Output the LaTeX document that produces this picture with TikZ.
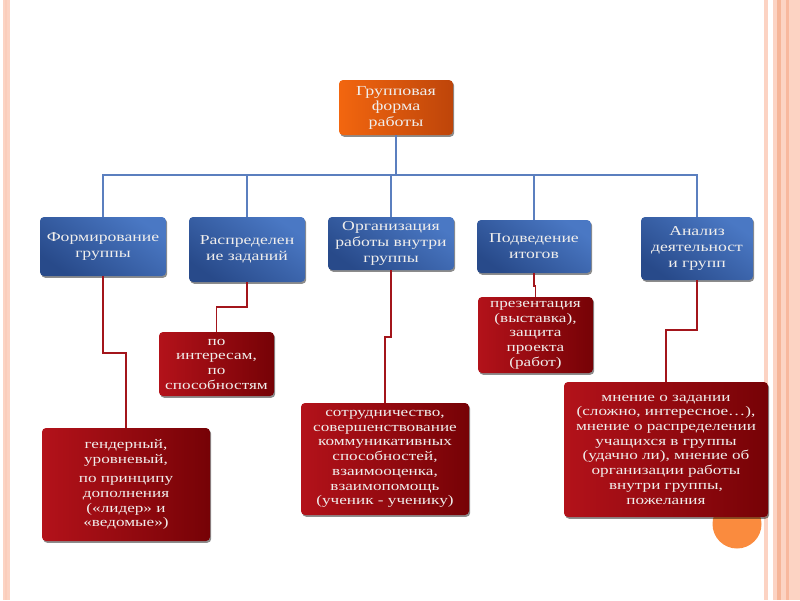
\documentclass[tikz,border=0pt]{standalone}
\usepackage{fontspec}
\setmainfont{Liberation Serif}[FakeStretch=1.3]
\usetikzlibrary{shadows}
\definecolor{bluetop}{HTML}{4A78C4}
\definecolor{bluebot}{HTML}{284A8A}
\definecolor{redl}{HTML}{B3121A}
\definecolor{redr}{HTML}{760206}
\definecolor{orl}{HTML}{F2660F}
\definecolor{orr}{HTML}{BE450A}
\definecolor{bline}{HTML}{5B7FBF}
\definecolor{rline}{HTML}{A3151B}
\definecolor{txt}{HTML}{F0EEEC}
\definecolor{pinkA}{HTML}{FCD3C3}
\definecolor{pinkB}{HTML}{F8B89E}
\definecolor{pinkC}{HTML}{F4A27F}
\definecolor{circ}{HTML}{FA8B3E}
\tikzset{
  boxbase/.style={rounded corners=4pt, draw=none, align=center, text=txt, inner sep=2pt,
    drop shadow={shadow xshift=1.2pt, shadow yshift=-1.8pt, opacity=0.45, fill=black}},
  bluebox/.style={boxbase, left color=bluetop, right color=bluebot, shading angle=-35,
    font=\fontsize{13.6}{16}\selectfont},
  redbox/.style={boxbase, left color=redl, right color=redr,
    font=\fontsize{13.2}{14.7}\selectfont},
  topbox/.style={boxbase, left color=orl, right color=orr,
    font=\fontsize{13.8}{15.5}\selectfont},
  blueline/.style={draw=bline, line width=1.4pt},
  redline/.style={draw=rline, line width=1.4pt}
}
\begin{document}
\begin{tikzpicture}[x=1pt,y=-1pt]
\useasboundingbox (0,0) rectangle (800,600);
\fill[white] (0,0) rectangle (800,600);
% frame stripes
\fill[pinkA] (3,0) rectangle (10,600);
\fill[pinkB!70!white] (5,0) rectangle (7,600);
\fill[pinkA] (764,0) rectangle (768,600);
\fill[pinkA] (773,0) rectangle (800,600);
\fill[pinkC!80!white] (777,0) rectangle (781,600);
\fill[pinkB] (786,0) rectangle (789,600);
% orange circle
\fill[circ] (737,524) circle (24.5);
% top
\node[topbox, minimum width=114, minimum height=55] (top) at (396,107.5) {Групповая\\форма\\работы};
% blue row
\node[bluebox, minimum width=126, minimum height=59] (b1) at (103,246.5) {Формирование\\группы};
\node[bluebox, minimum width=116, minimum height=65] (b2) at (247,249.5) {Распределен\\ие заданий};
\node[bluebox, minimum width=126, minimum height=53] (b3) at (391,243.5) {Организация\\работы внутри\\группы};
\node[bluebox, minimum width=114, minimum height=53] (b4) at (534,246.5) {Подведение\\итогов};
\node[bluebox, minimum width=112, minimum height=63] (b5) at (697,248.5) {Анализ\\деятельност\\и групп};
% red boxes
\node[redbox, minimum width=168, minimum height=113] (r1) at (126,484.5) {гендерный,\\уровневый,\\[5pt]по принципу\\дополнения\\(«лидер» и\\«ведомые»)};
\node[redbox, minimum width=115, minimum height=64] (r2) at (216.5,364) {по\\интересам,\\по\\способностям};
\node[redbox, minimum width=168, minimum height=112] (r3) at (385,459) {сотрудничество,\\совершенствование\\коммуникативных\\способностей,\\взаимооценка,\\взаимопомощь\\(ученик - ученику)};
\node[redbox, minimum width=115, minimum height=76] (r4) at (535.5,335) {презентация\\(выставка),\\защита\\проекта\\(работ)};
\node[redbox, minimum width=204, minimum height=135] (r5) at (666,449.5) {мнение о задании\\(сложно, интересное…),\\мнение о распределении\\учащихся в группы\\(удачно ли), мнение об\\организации работы\\внутри группы,\\пожелания};
% connectors
\coordinate (bus) at (0,175);
\foreach \b in {b1,b2,b3,b4,b5}{
  \draw[blueline] (top.south) -- (top.south |- bus) -| (\b.north);
}
\coordinate (j1) at (0,353);
\coordinate (j2) at (0,307);
\coordinate (j3) at (0,337);
\coordinate (j4) at (0,286);
\coordinate (j5) at (0,330);
\draw[redline] (b1.south) -- (b1.south |- j1) -| (r1.north);
\draw[redline] (b2.south) -- (b2.south |- j2) -| (r2.north);
\draw[redline] (b3.south) -- (b3.south |- j3) -| (r3.north);
\draw[redline] (b4.south) -- (b4.south |- j4) -| (r4.north);
\draw[redline] (b5.south) -- (b5.south |- j5) -| (r5.north);
\end{tikzpicture}
\end{document}
